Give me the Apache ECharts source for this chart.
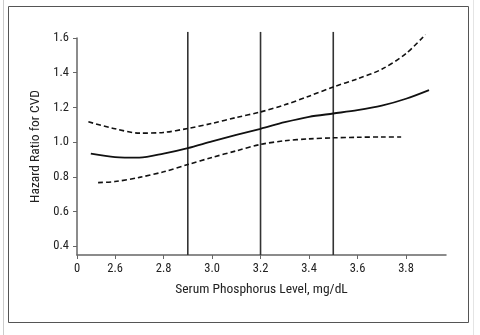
<!DOCTYPE html>
<html>
<head>
<meta charset="utf-8">
<script src="https://cdn.jsdelivr.net/npm/echarts@6/dist/echarts.min.js"></script>
<style>
  html, body { margin: 0; padding: 0; background: #fff; }
  #chart { width: 480px; height: 335px; }
</style>
</head>
<body>
<div id="chart"></div>
<script>
// axis ticks
const xTicks = [2.443, 2.6, 2.8, 3.0, 3.2, 3.4, 3.6, 3.8]
const yTicks = [0.4, 0.6, 0.8, 1.0, 1.2, 1.4, 1.6]

// hazard ratio estimate (solid)
const hrEstimate = [
  [2.50, 0.934], [2.6, 0.914], [2.7, 0.911], [2.8, 0.934], [2.9, 0.966],
  [3.0, 1.005], [3.1, 1.042], [3.2, 1.077], [3.3, 1.115], [3.4, 1.146],
  [3.5, 1.165], [3.6, 1.184], [3.7, 1.21], [3.8, 1.25], [3.895, 1.30]
]
// 95% CI upper (dashed)
const ciUpper = [
  [2.49, 1.117], [2.6, 1.077], [2.7, 1.052], [2.8, 1.056], [2.9, 1.079],
  [3.0, 1.108], [3.1, 1.142], [3.2, 1.174], [3.3, 1.215], [3.4, 1.265],
  [3.5, 1.318], [3.6, 1.365], [3.7, 1.42], [3.8, 1.51], [3.88, 1.62]
]
// 95% CI lower (dashed)
const ciLower = [
  [2.53, 0.767], [2.6, 0.773], [2.7, 0.797], [2.8, 0.829], [2.9, 0.871],
  [3.0, 0.912], [3.1, 0.95], [3.2, 0.987], [3.3, 1.008], [3.4, 1.019],
  [3.5, 1.025], [3.6, 1.028], [3.7, 1.03], [3.78, 1.03]
]
// reference cut points (vertical lines)
const cutPoints = [2.9, 3.2, 3.5]
const cutTop = 1.635

const yMin = 0.35
const yMax = 1.6

const font = '"Roboto Condensed", "Liberation Sans Narrow", sans-serif'

const chart = echarts.init(document.getElementById('chart'))

const cutSeries = cutPoints.map(x => ({
  type: 'line',
  data: [[x, yMin], [x, cutTop]],
  symbol: 'none',
  clip: false,
  silent: true,
  lineStyle: { color: '#333', width: 1.6 },
  z: 1
}))

const curveStyle = {
  type: 'line',
  smooth: 0.3,
  symbol: 'none',
  clip: false,
  z: 3
}

const option = {
  animation: false,
  backgroundColor: '#fff',
  graphic: [
    {
      type: 'rect',
      shape: { x: 8.5, y: 6.5, width: 460, height: 316 },
      style: { fill: 'none', stroke: '#555', lineWidth: 1 },
      silent: true
    },
    {
      type: 'line',
      shape: { x1: 3.5, y1: 0, x2: 3.5, y2: 335 },
      style: { stroke: '#ccc', lineWidth: 1 },
      silent: true
    },
    {
      type: 'line',
      shape: { x1: 473.5, y1: 0, x2: 473.5, y2: 335 },
      style: { stroke: '#e4e4e4', lineWidth: 1 },
      silent: true
    }
  ],
  grid: { left: 77, right: 34, top: 38, bottom: 80 },
  xAxis: {
    type: 'value',
    min: 2.443,
    max: 3.965,
    name: 'Serum Phosphorus Level, mg/dL',
    nameLocation: 'middle',
    nameGap: 28,
    nameTextStyle: { fontFamily: font, fontSize: 13.5, color: '#222' },
    splitLine: { show: false },
    axisLine: { lineStyle: { color: '#666', width: 1.5 } },
    axisTick: { customValues: xTicks, length: 4, lineStyle: { color: '#666' } },
    axisLabel: {
      customValues: xTicks,
      margin: 7,
      fontFamily: font,
      fontSize: 12.5,
      color: '#222',
      formatter: v => (v < 2.5 ? '0' : v.toFixed(1))
    }
  },
  yAxis: {
    type: 'value',
    min: yMin,
    max: yMax,
    name: 'Hazard Ratio for CVD',
    nameLocation: 'middle',
    nameGap: 30,
    nameTextStyle: { fontFamily: font, fontSize: 13.5, color: '#222' },
    splitLine: { show: false },
    axisLine: { show: true, lineStyle: { color: '#666', width: 1.5 } },
    axisTick: { show: true, customValues: yTicks, length: 4, lineStyle: { color: '#666' } },
    axisLabel: {
      customValues: yTicks,
      margin: 8,
      fontFamily: font,
      fontSize: 12.5,
      color: '#222',
      formatter: v => v.toFixed(1)
    }
  },
  series: [
    ...cutSeries,
    Object.assign({}, curveStyle, {
      data: hrEstimate,
      lineStyle: { color: '#111', width: 1.8 }
    }),
    Object.assign({}, curveStyle, {
      data: ciUpper,
      lineStyle: { color: '#111', width: 1.6, type: [5, 3] }
    }),
    Object.assign({}, curveStyle, {
      data: ciLower,
      lineStyle: { color: '#111', width: 1.6, type: [5, 3] }
    })
  ]
}

chart.setOption(option)
</script>
</body>
</html>
